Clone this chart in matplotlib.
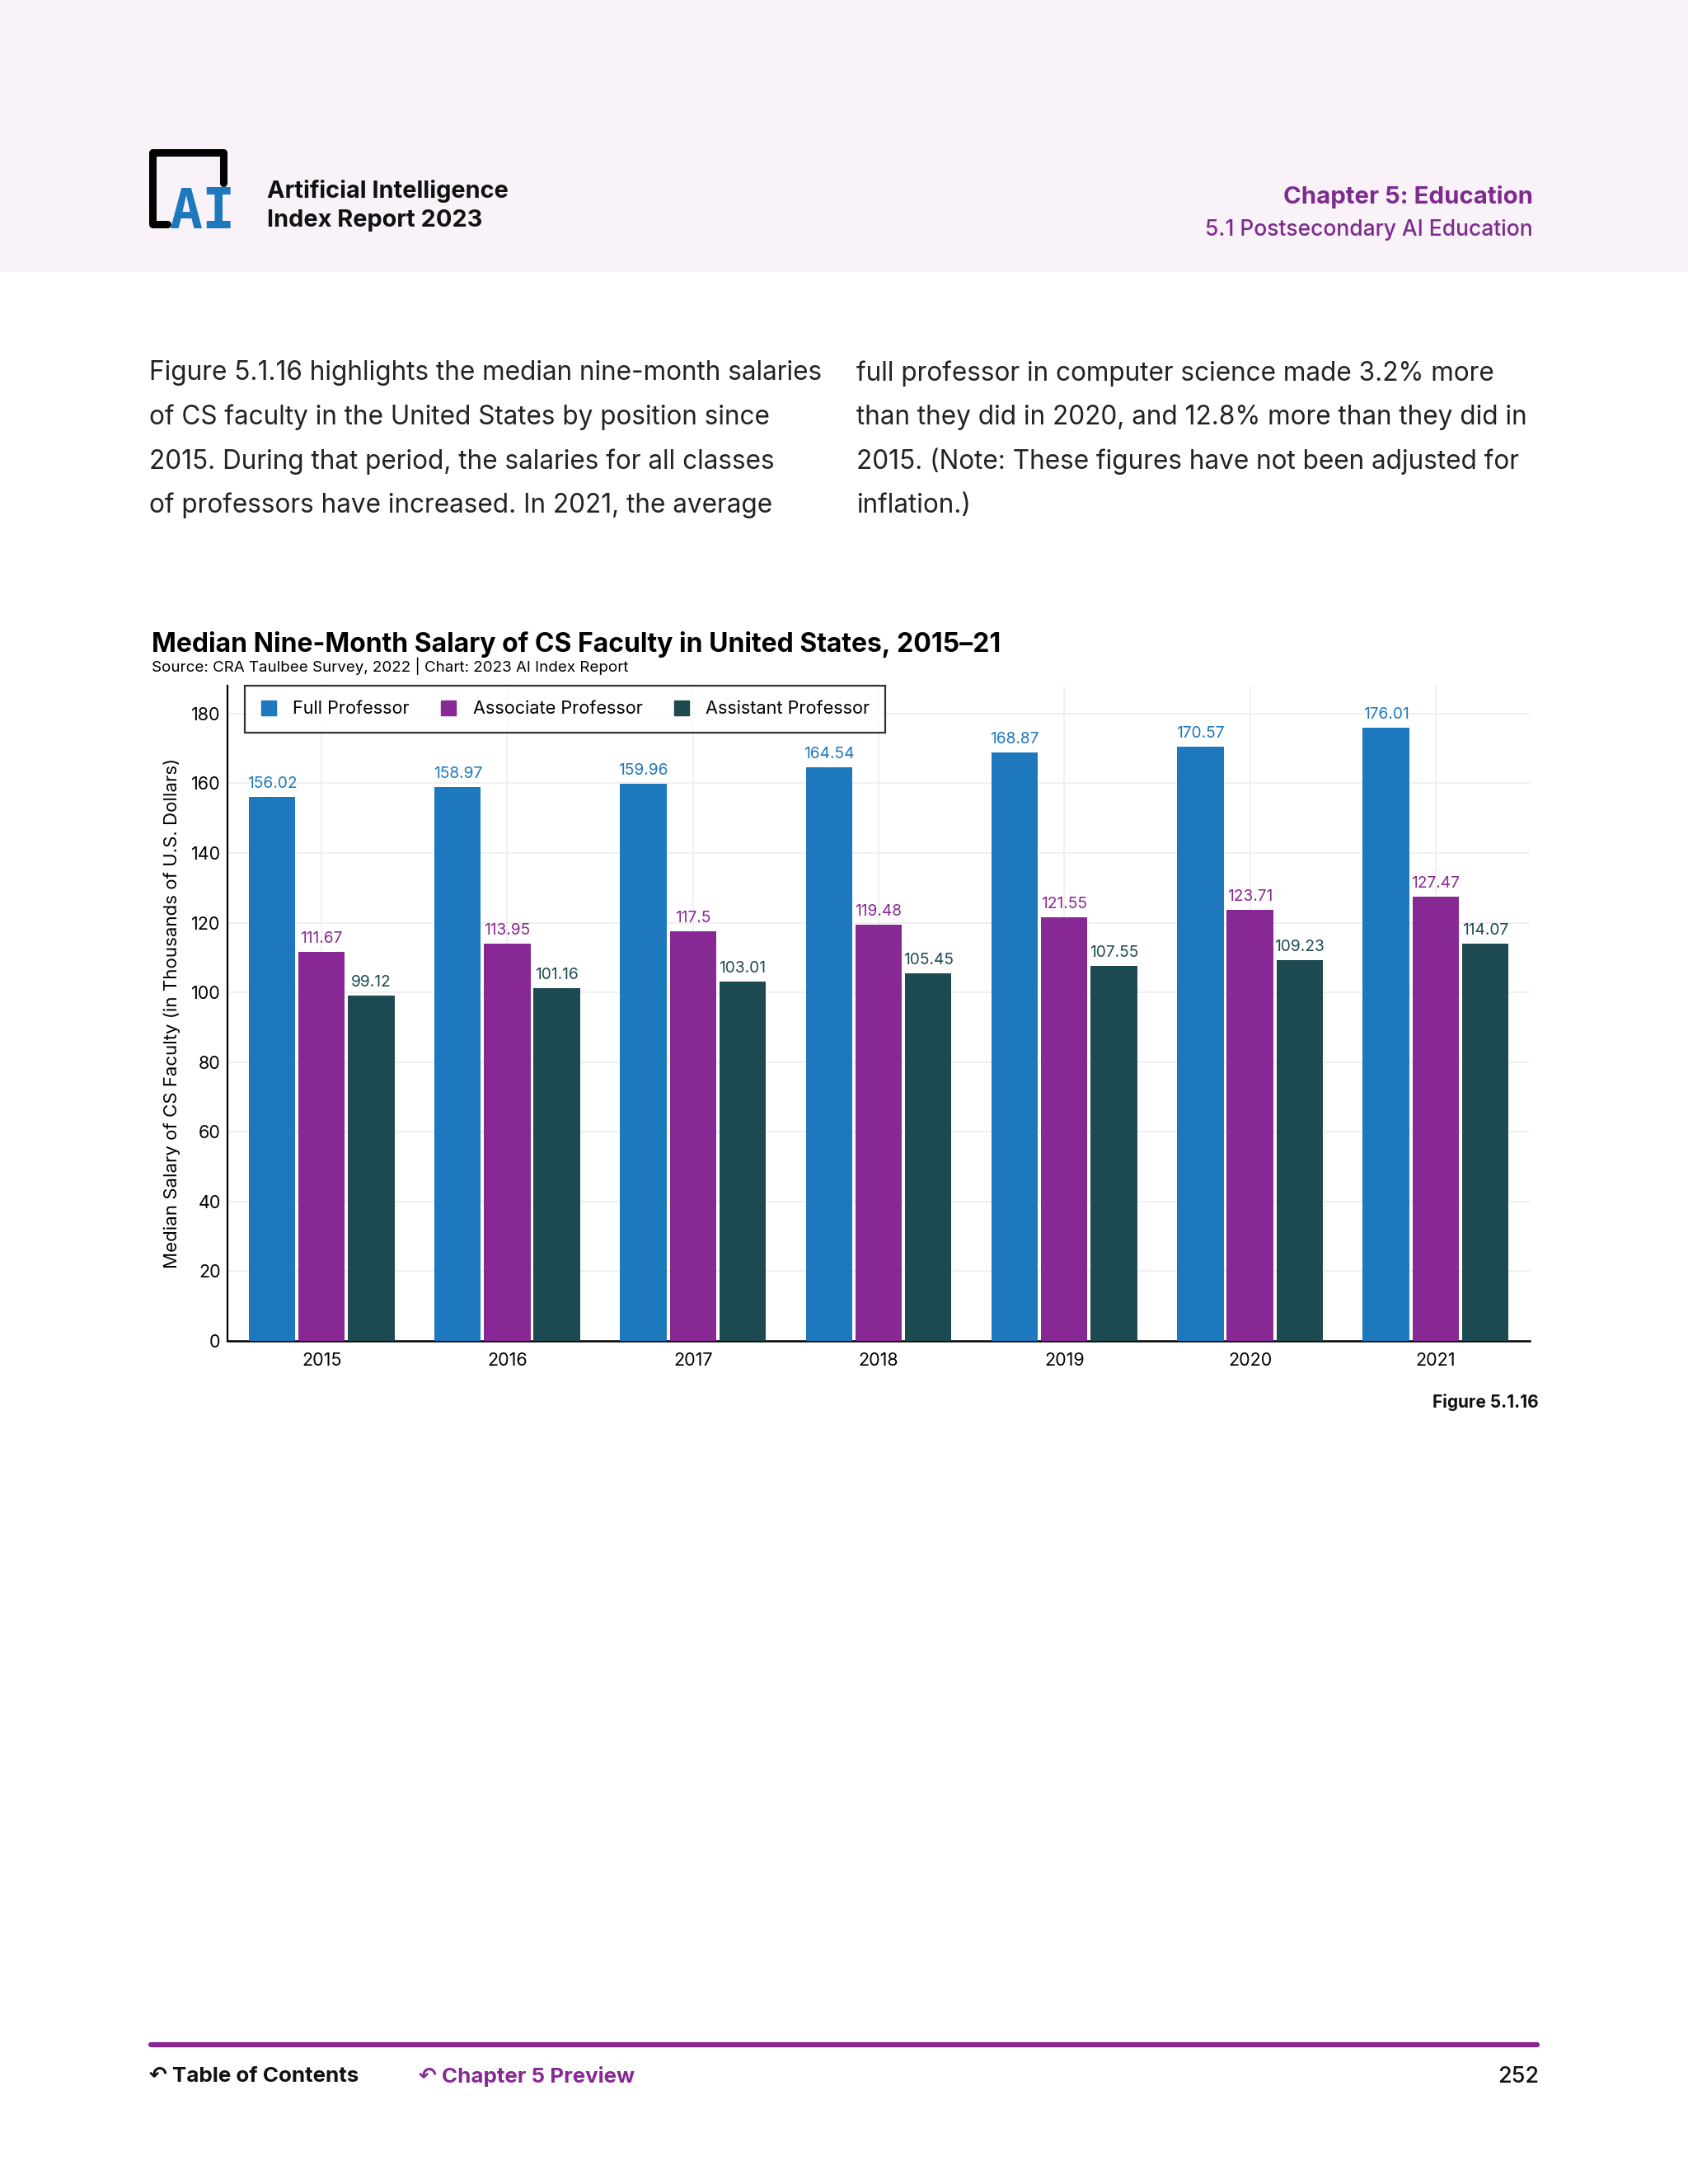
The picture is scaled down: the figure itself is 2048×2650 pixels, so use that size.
import numpy as np
import matplotlib
matplotlib.use("Agg")
import matplotlib.pyplot as plt
from matplotlib.lines import Line2D
from matplotlib.patches import Rectangle

plt.rcParams['font.family'] = ['Inter', 'DejaVu Sans']

# data
years = ['2015', '2016', '2017', '2018', '2019', '2020', '2021']
full_prof = [156.02, 158.97, 159.96, 164.54, 168.87, 170.57, 176.01]
assoc_prof = [111.67, 113.95, 117.5, 119.48, 121.55, 123.71, 127.47]
asst_prof = [99.12, 101.16, 103.01, 105.45, 107.55, 109.23, 114.07]
series_names = ['Full Professor', 'Associate Professor', 'Assistant Professor']
yticks = [0, 20, 40, 60, 80, 100, 120, 140, 160, 180]

blue = '#1E78BE'
purple = '#882894'
teal = '#1C4A50'
hdr_purple = '#7E2B8E'

W, H = 2048, 2650
fig = plt.figure(figsize=(W / 100, H / 100), dpi=100)
fig.patch.set_facecolor('white')

def fx(x):
    return x / W

def fy(y):
    return 1 - y / H

# header band
fig.patches.append(Rectangle((0, fy(330)), 1, 330 / H, transform=fig.transFigure,
                             facecolor='#F9F3F9', edgecolor='none', zorder=0))

# logo
fig.lines.append(Line2D([fx(203), fx(185), fx(185), fx(271), fx(271)],
                        [fy(272), fy(272), fy(185), fy(185), fy(222)],
                        transform=fig.transFigure, color='black', lw=6.5,
                        solid_joinstyle='round', solid_capstyle='round'))
fig.text(fx(206), fy(277), 'AI', family='DejaVu Sans Mono', weight='bold',
         fontsize=48, color=blue, ha='left', va='baseline')
fig.text(fx(324), fy(240), 'Artificial Intelligence', fontsize=20.8, weight='bold',
         color='#111111', ha='left', va='baseline')
fig.text(fx(324), fy(275), 'Index Report 2023', fontsize=20.8, weight='bold',
         color='#111111', ha='left', va='baseline')
fig.text(fx(1860), fy(247), 'Chapter 5: Education', fontsize=21.2, weight='bold',
         color=hdr_purple, ha='right', va='baseline')
fig.text(fx(1860), fy(286), '5.1 Postsecondary AI Education', fontsize=19,
         weight='medium', color=hdr_purple, ha='right', va='baseline')

# body text
left_lines = ['Figure 5.1.16 highlights the median nine-month salaries',
              'of CS faculty in the United States by position since',
              '2015. During that period, the salaries for all classes',
              'of professors have increased. In 2021, the average']
right_lines = ['full professor in computer science made 3.2% more',
               'than they did in 2020, and 12.8% more than they did in',
               '2015. (Note: These figures have not been adjusted for',
               'inflation.)']
for i, (l, r) in enumerate(zip(left_lines, right_lines)):
    yy = fy(453 + i * 53.5)
    fig.text(fx(181), yy, l, fontsize=22.7, color='#222222', ha='left', va='center')
    fig.text(fx(1039), yy, r, fontsize=22.7, color='#222222', ha='left', va='center')

# chart title
fig.text(fx(184), fy(782), 'Median Nine-Month Salary of CS Faculty in United States, 2015\u201321',
         fontsize=23, weight='bold', color='black', ha='left', va='center')
fig.text(fx(184), fy(808), 'Source: CRA Taulbee Survey, 2022 | Chart: 2023 AI Index Report',
         fontsize=13.5, color='black', ha='left', va='center')

# axes
ax = fig.add_axes([fx(276), fy(1627), (1856 - 276) / W, (1627 - 832) / H])
x = np.arange(len(years))
bw = 0.25
step = 0.267
series = [full_prof, assoc_prof, asst_prof]
colors = [blue, purple, teal]
for k, (vals, col, name) in enumerate(zip(series, colors, series_names)):
    pos = x + (k - 1) * step
    bars = ax.bar(pos, vals, width=bw, color=col, label=name, zorder=3)
    for b, v in zip(bars, vals):
        ax.annotate(f'{v:g}', (b.get_x() + b.get_width() / 2, v),
                    xytext=(0, 5), textcoords='offset points',
                    ha='center', va='bottom', fontsize=13.8, color=col)

ax.set_xlim(-0.507, 6.507)
ax.set_ylim(0, 188)
ax.set_xticks(x)
ax.set_xticklabels(years, fontsize=15.5)
ax.set_yticks(yticks)
ax.set_yticklabels([str(t) for t in yticks], fontsize=15.5)
ax.tick_params(length=0, pad=6)
ax.tick_params(axis='x', pad=10)
ax.grid(True, color='#EEEEEE', lw=1.2, zorder=0)
ax.set_axisbelow(True)
for s in ['top', 'right']:
    ax.spines[s].set_visible(False)
ax.spines['left'].set_linewidth(1.6)
ax.spines['bottom'].set_linewidth(1.8)
ax.set_ylabel('Median Salary of CS Faculty (in Thousands of U.S. Dollars)', fontsize=16,
              labelpad=9)

handles = [Line2D([], [], marker='s', ls='none', markersize=13, color=c) for c in colors]
leg = ax.legend(handles, series_names, loc='upper left', bbox_to_anchor=(0.013, 1.0),
                borderaxespad=0, ncol=3, fontsize=15.6, frameon=True, fancybox=False,
                borderpad=0.85, handletextpad=0.85, columnspacing=1.7, handlelength=1.0)
leg.get_frame().set_edgecolor('black')
leg.get_frame().set_linewidth(1.6)

fig.text(fx(1867), fy(1702), 'Figure 5.1.16', fontsize=15, weight='bold',
         color='#111111', ha='right', va='center')

# footer
fig.lines.append(Line2D([fx(183), fx(1865)], [fy(2481), fy(2481)],
                        transform=fig.transFigure, color=purple, lw=4.5,
                        solid_capstyle='round'))
fig.text(fx(181), fy(2520), '\u21b6 Table of Contents', fontsize=18.7, weight='bold',
         color='#111111', ha='left', va='center', family=['Inter', 'DejaVu Sans'])
fig.text(fx(508), fy(2520), '\u21b6 Chapter 5 Preview', fontsize=18.7, weight='bold',
         color=purple, ha='left', va='center', family=['Inter', 'DejaVu Sans'])
fig.text(fx(1867), fy(2520), '252', fontsize=19.5, weight='medium', color='#111111',
         ha='right', va='center')

fig.savefig('out.png', dpi=100)
